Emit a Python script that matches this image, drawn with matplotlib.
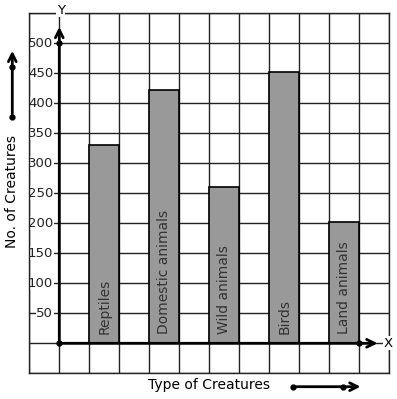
import matplotlib
matplotlib.use('Agg')
import matplotlib.pyplot as plt

categories = ['Reptiles', 'Domestic animals', 'Wild animals', 'Birds', 'Land animals']
counts = [330, 422, 260, 453, 203]
bar_x = [1.5, 3.5, 5.5, 7.5, 9.5]
y_ticks = [50, 100, 150, 200, 250, 300, 350, 400, 450, 500]

W, H = 397, 399
fig = plt.figure(figsize=(W / 100, H / 100), dpi=100)
ax = fig.add_axes([29.3 / W, 25.7 / H, 360 / W, 360 / H])

ax.set_xlim(-1, 11)
ax.set_ylim(-50, 550)
ax.set_xticks(range(-1, 12))
ax.set_yticks(range(-50, 551, 50))
ax.grid(True, color='#222222', linewidth=1.0)
ax.set_axisbelow(True)
ax.tick_params(length=0, labelbottom=False, labelleft=False)
for s in ax.spines.values():
    s.set_color('#222222')
    s.set_linewidth(1.0)

ax.bar(bar_x, counts, width=1.0, color='#999999', edgecolor='black', linewidth=1.2, zorder=3)
for x, name in zip(bar_x, categories):
    ax.text(x, 16, name, rotation=90, ha='center', va='bottom', fontsize=10,
            color='#333333', zorder=4)

# y tick labels with white boxes over the grid
for v in y_ticks:
    ax.text(-0.2, v, str(v), ha='right', va='center', fontsize=9.5, color='#222222',
            bbox=dict(facecolor='white', edgecolor='none', pad=0.5), zorder=2)

# axes with arrows
ax.annotate('', xy=(0, 532), xytext=(0, 0),
            arrowprops=dict(arrowstyle='->', lw=2, color='black', mutation_scale=14), zorder=5)
ax.annotate('', xy=(10.7, 0), xytext=(0, 0),
            arrowprops=dict(arrowstyle='->', lw=2, color='black', mutation_scale=14), zorder=5)
ax.plot([0, 0, 10], [0, 500, 0], 'ko', ms=3.5, zorder=6, clip_on=False)
ax.text(0.05, 555, 'Y', ha='center', va='center', fontsize=9.5,
        bbox=dict(facecolor='white', edgecolor='none', pad=0.5), zorder=6, clip_on=False)
ax.text(10.97, 0, 'X', ha='center', va='center', fontsize=9.5,
        bbox=dict(facecolor='white', edgecolor='none', pad=0.5), zorder=6, clip_on=False)

# axis titles with their arrows
fig.text(12 / W, 1 - 192 / H, 'No. of Creatures', rotation=90, ha='center', va='center', fontsize=10)
fig.text(209 / W, 1 - 385 / H, 'Type of Creatures', ha='center', va='center', fontsize=10)
ax.annotate('', xy=(12.3, H - 48), xytext=(12.3, H - 116.7), xycoords='figure pixels',
            arrowprops=dict(arrowstyle='->', lw=2, color='black', mutation_scale=14))
ax.annotate('', xy=(363.3, H - 386.7), xytext=(293.3, H - 386.7), xycoords='figure pixels',
            arrowprops=dict(arrowstyle='->', lw=2, color='black', mutation_scale=14))
for px, py in [(12.3, H - 66.7), (12.3, H - 116.7), (293.3, H - 386.7), (343.3, H - 386.7)]:
    fig.lines.append(plt.Line2D([px / W], [py / H], marker='o', ms=3.5, color='black',
                                transform=fig.transFigure))

fig.savefig('out.png', dpi=100)
